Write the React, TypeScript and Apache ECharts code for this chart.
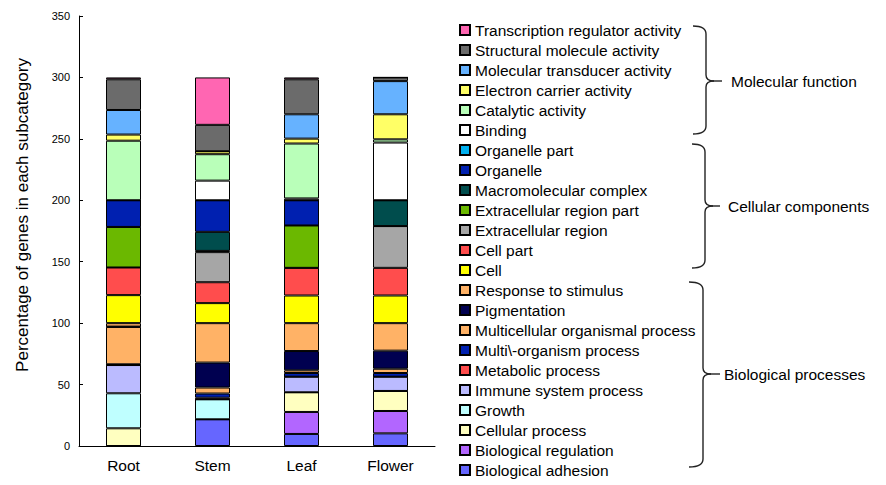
import React, { useEffect, useRef } from "react";
import * as echarts from "echarts";

const categories = ["Root", "Stem", "Leaf", "Flower"];

// Values per category: Root, Stem, Leaf, Flower (stacked bottom to top)
const biologicalAdhesion = [0, 21.7, 9.8, 10.3];
const biologicalRegulation = [0, 0, 17.9, 18.2];
const cellularProcess = [14.4, 0, 16, 16.3];
const growth = [28.5, 16.3, 0, 0];
const immuneSystemProcess = [23, 0, 12.7, 11.6];
const metabolicProcess = [0, 1.3, 0, 0];
const multiOrganismProcess = [0.6, 3.4, 3, 3];
const multicellularProcess = [30.4, 4.9, 2.2, 3.5];
const pigmentation = [0.3, 20.3, 15.7, 14.7];
const responseToStimulus = [2.8, 32.1, 22.7, 22.4];
const cell = [22.8, 16.3, 22.5, 22.5];
const cellPart = [22.5, 17, 22.5, 22.5];
const extracellularRegion = [0, 24.5, 0, 34];
const extracellularRegionPart = [33, 1, 34.5, 0];
const macromolecularComplex = [0, 15.5, 0, 21];
const organelle = [21.7, 25.7, 20.5, 0];
const organellePart = [0, 0, 0, 0];
const binding = [0, 16, 1.5, 47];
const catalyticActivity = [48.5, 21.5, 44.7, 2.6];
const electronCarrierActivity = [5, 2.4, 4, 20.4];
const molecularTransducerActivity = [20, 0, 19.8, 27];
const structuralMoleculeActivity = [25, 21.5, 28.5, 3];
const transcriptionRegulatorActivity = [1.5, 38.6, 1.5, 0];

const yTicks = { min: 0, max: 350, interval: 50 };
const yAxisTitle = "Percentage of genes in each subcategory";
const groupLabels = ["Molecular function", "Cellular components", "Biological processes"];

const seriesDefs: [string, number[], string][] = [
  ["Biological adhesion", biologicalAdhesion, "#6666FF"],
  ["Biological regulation", biologicalRegulation, "#B266FF"],
  ["Cellular process", cellularProcess, "#FFFFC0"],
  ["Growth", growth, "#BFFFFF"],
  ["Immune system process", immuneSystemProcess, "#BBBBFF"],
  ["Metabolic process", metabolicProcess, "#FF4D4D"],
  ["Multi\\-organism process", multiOrganismProcess, "#0020B0"],
  ["Multicellular organismal process", multicellularProcess, "#FFB266"],
  ["Pigmentation", pigmentation, "#000050"],
  ["Response to stimulus", responseToStimulus, "#FFB266"],
  ["Cell", cell, "#FFFF00"],
  ["Cell part", cellPart, "#FF4D4D"],
  ["Extracellular region", extracellularRegion, "#A6A6A6"],
  ["Extracellular region part", extracellularRegionPart, "#6BB800"],
  ["Macromolecular complex", macromolecularComplex, "#004D4D"],
  ["Organelle", organelle, "#0020B0"],
  ["Organelle part", organellePart, "#00B0F0"],
  ["Binding", binding, "#FFFFFF"],
  ["Catalytic activity", catalyticActivity, "#B9FFB9"],
  ["Electron carrier activity", electronCarrierActivity, "#FFFF66"],
  ["Molecular transducer activity", molecularTransducerActivity, "#66B2FF"],
  ["Structural molecule activity", structuralMoleculeActivity, "#6B6B6B"],
  ["Transcription regulator activity", transcriptionRegulatorActivity, "#FF66B2"],
];

const FONT = "'Liberation Sans', Arial, sans-serif";

function brace(x0: number, xs: number, xt: number, y1: number, ym: number, y2: number) {
  const st = { stroke: "#222", lineWidth: 1.4, fill: "none" };
  return [
    { type: "bezierCurve", shape: { x1: x0, y1: y1, cpx1: xs, cpy1: y1, x2: xs, y2: y1 + 8 }, style: st },
    { type: "line", shape: { x1: xs, y1: y1 + 8, x2: xs, y2: ym - 6 }, style: st },
    { type: "bezierCurve", shape: { x1: xs, y1: ym - 6, cpx1: xs, cpy1: ym, x2: xs + 8, y2: ym }, style: st },
    { type: "bezierCurve", shape: { x1: xs + 8, y1: ym, cpx1: xs, cpy1: ym, x2: xs, y2: ym + 6 }, style: st },
    { type: "line", shape: { x1: xs, y1: ym + 6, x2: xs, y2: y2 - 8 }, style: st },
    { type: "bezierCurve", shape: { x1: xs, y1: y2 - 8, cpx1: xs, cpy1: y2, x2: x0, y2: y2 }, style: st },
    { type: "line", shape: { x1: xs + 8, y1: ym, x2: xt, y2: ym }, style: st },
  ];
}

export default function App() {
  const ref = useRef<HTMLDivElement>(null);
  useEffect(() => {
    if (!ref.current) return;
    const chart = echarts.init(ref.current, null, { renderer: "svg" });
    const series = seriesDefs.map(([name, data, color]) => ({
      name,
      type: "bar",
      stack: "total",
      data,
      barWidth: 35,
      itemStyle: { color, borderColor: "#000", borderWidth: 1 },
    }));
    const textStyle = { fill: "#000", font: `15.5px ${FONT}`, verticalAlign: "middle" };
    chart.setOption({
      animation: false,
      backgroundColor: "#fff",
      grid: { left: 79, right: 451, top: 16, bottom: 39 },
      xAxis: {
        type: "category",
        data: categories,
        axisLine: { lineStyle: { color: "#000", width: 1 } },
        axisTick: { inside: true, length: 5, lineStyle: { color: "#000" } },
        axisLabel: { color: "#000", fontSize: 15.5, fontFamily: FONT, margin: 11 },
      },
      yAxis: {
        type: "value",
        min: yTicks.min,
        max: yTicks.max,
        interval: yTicks.interval,
        axisLine: { show: true, lineStyle: { color: "#000", width: 1 } },
        axisTick: { show: true, inside: true, length: 4, lineStyle: { color: "#000" } },
        splitLine: { show: false },
        axisLabel: { color: "#000", fontSize: 11, fontFamily: FONT, margin: 9 },
      },
      legend: {
        orient: "vertical",
        left: 459,
        top: 20,
        height: 465,
        padding: 0,
        itemWidth: 10,
        itemHeight: 10,
        itemGap: 0,
        icon: "rect",
        data: seriesDefs.map((d) => d[0]).reverse(),
        textStyle: { color: "#000", fontSize: 15.5, fontFamily: FONT, lineHeight: 20 },
        selectedMode: false,
      },
      graphic: [
        {
          type: "text",
          x: 22,
          y: 215,
          rotation: Math.PI / 2,
          style: { text: yAxisTitle, fill: "#000", font: `17px ${FONT}`, align: "center", verticalAlign: "middle" },
        },
        ...brace(693, 706, 722, 26, 81, 134),
        ...brace(692, 705, 720, 144, 206, 268),
        ...brace(689, 703, 720, 282, 374, 467),
        { type: "text", x: 731, y: 81, style: { ...textStyle, text: groupLabels[0] } },
        { type: "text", x: 728, y: 206, style: { ...textStyle, text: groupLabels[1] } },
        { type: "text", x: 724, y: 374, style: { ...textStyle, text: groupLabels[2] } },
      ],
      series,
    });
    return () => chart.dispose();
  }, []);
  return <div ref={ref} style={{ position: "absolute", left: 0, top: 0, width: 886, height: 485 }} />;
}
